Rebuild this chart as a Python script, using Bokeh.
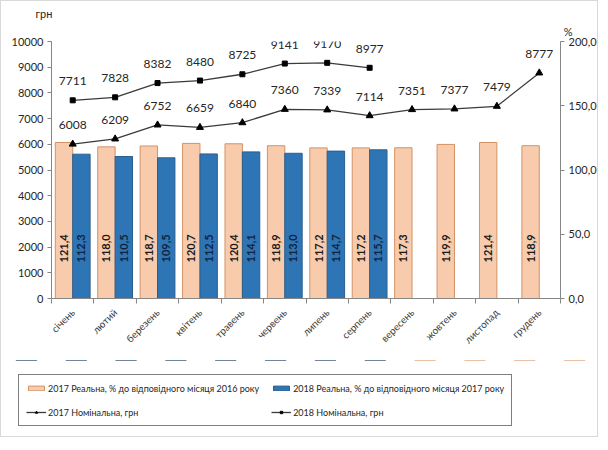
from math import pi
from bokeh.plotting import figure
from bokeh.layouts import column, row
from bokeh.models import (Range1d, LinearAxis, Legend, LegendItem,
                          ColumnDataSource, Title, FixedTicker)
from bokeh.transform import dodge
from bokeh.embed import file_html
from bokeh.resources import INLINE
from bokeh.core.properties import value

# ---------------- data ----------------
months = ["січень", "лютий", "березень", "квітень", "травень", "червень",
          "липень", "серпень", "вересень", "жовтень", "листопад", "грудень"]
real_2017 = [121.4, 118.0, 118.7, 120.7, 120.4, 118.9, 117.2, 117.2, 117.3, 119.9, 121.4, 118.9]
real_2018 = [112.3, 110.5, 109.5, 112.5, 114.1, 113.0, 114.7, 115.7]
nom_2017 = [6008, 6209, 6752, 6659, 6840, 7360, 7339, 7114, 7351, 7377, 7479, 8777]
nom_2018 = [7711, 7828, 8382, 8480, 8725, 9141, 9170, 8977]
left_ticks = [0, 1000, 2000, 3000, 4000, 5000, 6000, 7000, 8000, 9000, 10000]
right_ticks = [0, 50, 100, 150, 200]
right_tick_labels = ["0,0", "50,0", "100,0", "150,0", "200,0"]

FONT = "Lato"
LABEL_POS = 39  # vertical position of in-bar labels on % axis

def fmt(v):
    return ("%.1f" % v).replace(".", ",")

# category slot centres on a numeric x scale (one unit per month)
cx = [i + 0.5 for i in range(len(months))]

src17 = ColumnDataSource(dict(x=cx, v=real_2017, t=[fmt(v) for v in real_2017],
                              ly=[LABEL_POS] * len(months)))
src18 = ColumnDataSource(dict(x=cx[:len(real_2018)], v=real_2018,
                              t=[fmt(v) for v in real_2018],
                              ly=[LABEL_POS] * len(real_2018)))
n17 = ColumnDataSource(dict(x=cx, v=nom_2017, t=[str(v) for v in nom_2017]))
n18 = ColumnDataSource(dict(x=cx[:len(nom_2018)], v=nom_2018, t=[str(v) for v in nom_2018]))

BORDER = "1px solid #D9D9D9"

p = figure(width=598, height=360, x_range=Range1d(0, len(months)),
           y_range=Range1d(0, 10000), output_backend="svg", toolbar_location=None,
           x_axis_location=None, y_axis_location=None,
           min_border_left=50, min_border_right=38, min_border_top=40, min_border_bottom=63)
p.extra_y_ranges = {"pct": Range1d(0, 200)}
p.xgrid.visible = False
p.ygrid.visible = False
p.outline_line_color = None
p.background_fill_color = "white"
p.border_fill_color = "white"
p.styles = {"border": BORDER, "border-bottom": "none"}

AX = "#868686"
TXT = "#404040"

# left axis
ly = LinearAxis(ticker=FixedTicker(ticks=left_ticks))
ly.axis_line_color = AX
ly.major_tick_line_color = AX
ly.major_tick_out = 4
ly.major_tick_in = 0
ly.minor_tick_line_color = None
ly.major_label_text_font = FONT
ly.major_label_text_font_size = "11px"
ly.major_label_text_color = "#262626"
ly.major_label_standoff = 4
p.add_layout(ly, "left")

# right axis
ry = LinearAxis(y_range_name="pct", ticker=FixedTicker(ticks=right_ticks),
                major_label_overrides={t: l for t, l in zip(right_ticks, right_tick_labels)})
ry.axis_line_color = AX
ry.major_tick_line_color = AX
ry.major_tick_out = 4
ry.major_tick_in = 0
ry.minor_tick_line_color = None
ry.major_label_text_font = FONT
ry.major_label_text_font_size = "11px"
ry.major_label_text_color = "#262626"
ry.major_label_standoff = 4
p.add_layout(ry, "right")

# bottom axis: month labels at centres, tick marks between categories
bx = LinearAxis(ticker=FixedTicker(ticks=cx, minor_ticks=list(range(len(months) + 1))),
                major_label_overrides={c: m for c, m in zip(cx, months)})
bx.axis_line_color = AX
bx.major_tick_line_color = None
bx.minor_tick_line_color = AX
bx.minor_tick_out = 5
bx.minor_tick_in = 0
bx.major_label_orientation = pi / 4
bx.major_label_text_font = FONT
bx.major_label_text_font_size = "10px"
bx.major_label_text_color = TXT
bx.major_label_standoff = 6
p.add_layout(bx, "below")

# bars
BW = 0.41
ORANGE_FILL, ORANGE_LINE = "#F8CBAD", "#D39265"
BLUE_FILL, BLUE_LINE = "#2E75B6", "#2B5F8E"
LINE_COL = "#3a3a3a"

p.vbar(x=dodge("x", -BW / 2), top="v", width=BW, source=src17,
       y_range_name="pct", fill_color=ORANGE_FILL, line_color=ORANGE_LINE, line_width=1)
p.vbar(x=dodge("x", BW / 2), top="v", width=BW, source=src18,
       y_range_name="pct", fill_color=BLUE_FILL, line_color=BLUE_LINE, line_width=1)

# in-bar labels
p.text(x=dodge("x", -BW / 2), y="ly", text="t", source=src17,
       y_range_name="pct", angle=pi / 2, text_align="center", text_baseline="middle",
       text_font=value(FONT), text_font_size="11px", text_font_style="bold", text_color="#1a1a1a")
p.text(x=dodge("x", BW / 2), y="ly", text="t", source=src18,
       y_range_name="pct", angle=pi / 2, text_align="center", text_baseline="middle",
       text_font=value(FONT), text_font_size="11px", text_font_style="bold", text_color="#10243f")

# lines
p.line(x="x", y="v", source=n17, line_color=LINE_COL, line_width=1.3)
p.scatter(x="x", y="v", source=n17, marker="triangle", size=7,
          fill_color="black", line_color="black")
p.line(x="x", y="v", source=n18, line_color=LINE_COL, line_width=1.3)
p.scatter(x="x", y="v", source=n18, marker="square", size=5,
          fill_color="black", line_color="black")

for s in (n17, n18):
    p.text(x="x", y="v", text="t", source=s, y_offset=-19, text_align="center",
           text_baseline="middle", text_font=value(FONT), text_font_size="12px",
           text_color="#262626")

# axis unit titles
p.title.text = "грн"
p.title.align = "left"
p.title.offset = -16
p.title.standoff = 0
p.title.text_font = FONT
p.title.text_font_size = "11px"
p.title.text_font_style = "normal"
p.title.text_color = "#262626"
t2 = Title(text="%", align="right", offset=-12, standoff=7, text_font=FONT,
           text_font_size="11px", text_font_style="normal", text_color="#262626")
p.add_layout(t2, "above")

# ---------------- legend strip (separate figure below the chart) ----------------
# Its ranges lie below the data, so the series drawn here stay out of view and only
# serve as legend keys.
lp = figure(width=598, height=77, x_range=Range1d(0, len(months)), y_range=Range1d(-200, -100),
            output_backend="svg", toolbar_location=None,
            x_axis_location=None, y_axis_location=None,
            min_border_left=0, min_border_right=0, min_border_top=0, min_border_bottom=0)
lp.xgrid.visible = False
lp.ygrid.visible = False
lp.outline_line_color = None
lp.background_fill_color = "white"
lp.border_fill_color = "white"
lp.styles = {"border": BORDER, "border-top": "none"}

g17 = lp.vbar(x="x", top="v", width=BW, source=src17, fill_color=ORANGE_FILL, line_color=ORANGE_LINE)
g18 = lp.vbar(x="x", top="v", width=BW, source=src18, fill_color=BLUE_FILL, line_color=BLUE_LINE)
gl17 = lp.line(x="x", y="v", source=n17, line_color=LINE_COL, line_width=1.3)
gs17 = lp.scatter(x="x", y="v", source=n17, marker="triangle", size=6,
                  fill_color="black", line_color="black")
gl18 = lp.line(x="x", y="v", source=n18, line_color=LINE_COL, line_width=1.3)
gs18 = lp.scatter(x="x", y="v", source=n18, marker="square", size=5,
                  fill_color="black", line_color="black")

legend = Legend(items=[
    LegendItem(label="2017 Реальна, % до відповідного місяця 2016 року", renderers=[g17]),
    LegendItem(label="2017 Номінальна, грн", renderers=[gl17, gs17]),
    LegendItem(label="2018 Реальна, % до відповідного місяця 2017 року", renderers=[g18]),
    LegendItem(label="2018 Номінальна, грн", renderers=[gl18, gs18]),
], ncols=2, location=(17, 11))
legend.border_line_color = "black"
legend.border_line_width = 1
legend.background_fill_color = "white"
legend.background_fill_alpha = 1
legend.label_text_font = FONT
legend.label_text_font_size = "9px"
legend.label_text_color = "#262626"
legend.glyph_width = 20
legend.glyph_height = 6
legend.label_height = 12
legend.label_standoff = 2
legend.padding = 7
legend.spacing = 12
legend.margin = 0
lp.add_layout(legend, "center")

layout = column(p, row(lp), spacing=0)
open("out.html", "w").write(file_html(layout, INLINE))
